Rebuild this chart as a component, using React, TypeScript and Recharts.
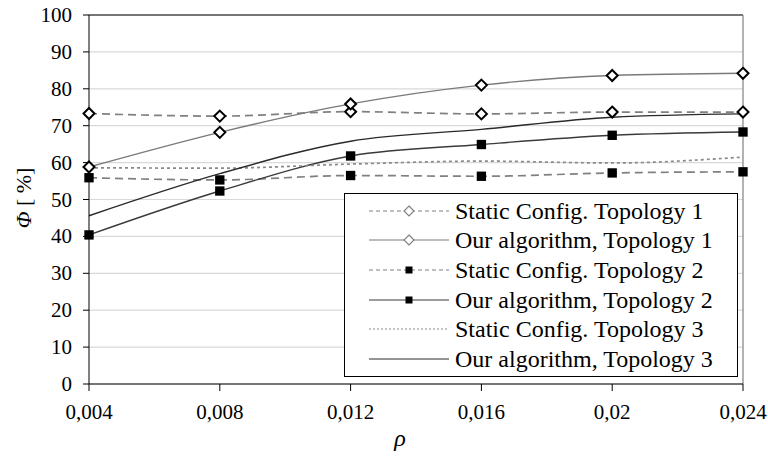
import React from 'react';
import { LineChart, Line, XAxis, YAxis, CartesianGrid, ReferenceLine } from 'recharts';

const rho = [0.004, 0.008, 0.012, 0.016, 0.02, 0.024];
const staticTopo1 = [73.3, 72.6, 73.8, 73.2, 73.7, 73.7];
const algoTopo1 = [58.8, 68.2, 75.9, 81.0, 83.6, 84.2];
const staticTopo2 = [55.9, 55.3, 56.5, 56.3, 57.2, 57.5];
const algoTopo2 = [40.4, 52.3, 61.8, 64.9, 67.4, 68.3];
const staticTopo3 = [58.6, 58.5, 59.6, 60.4, 59.9, 61.5];
const algoTopo3 = [45.6, 57.0, 65.8, 69.0, 72.3, 73.2];

const xTicks = [0.004, 0.008, 0.012, 0.016, 0.02, 0.024];
const yTicks = [0, 10, 20, 30, 40, 50, 60, 70, 80, 90, 100];

const FONT = '"Liberation Serif", "Times New Roman", serif';

type Marker = 'diamond' | 'square' | 'none';

interface SeriesDef {
  key: string;
  name: string;
  values: number[];
  stroke: string;
  width: number;
  dash?: string;
  marker: Marker;
}

const SERIES: SeriesDef[] = [
  { key: 's1', name: 'Static Config. Topology 1', values: staticTopo1, stroke: '#808080', width: 1.7, dash: '8 5', marker: 'diamond' },
  { key: 'a1', name: 'Our algorithm, Topology 1', values: algoTopo1, stroke: '#7a7a7a', width: 1.4, marker: 'diamond' },
  { key: 's2', name: 'Static Config. Topology 2', values: staticTopo2, stroke: '#808080', width: 1.7, dash: '8 5', marker: 'square' },
  { key: 'a2', name: 'Our algorithm, Topology 2', values: algoTopo2, stroke: '#3a3a3a', width: 1.4, marker: 'square' },
  { key: 's3', name: 'Static Config. Topology 3', values: staticTopo3, stroke: '#8a8a8a', width: 1.7, dash: '3 3', marker: 'none' },
  { key: 'a3', name: 'Our algorithm, Topology 3', values: algoTopo3, stroke: '#2a2a2a', width: 1.4, marker: 'none' },
];

const data = rho.map((r, i) => {
  const row: Record<string, number> = { rho: r };
  SERIES.forEach((s) => {
    row[s.key] = s.values[i];
  });
  return row;
});

const markerShape = (kind: Marker, cx: number, cy: number, size: number, key?: string) => {
  if (kind === 'diamond') {
    const r = size;
    return (
      <path
        key={key}
        d={`M${cx},${cy - r}L${cx + r},${cy}L${cx},${cy + r}L${cx - r},${cy}Z`}
        fill="#fff"
        stroke="#000"
        strokeWidth={2}
      />
    );
  }
  if (kind === 'square') {
    const r = size * 0.85;
    return <rect key={key} x={cx - r} y={cy - r} width={r * 2} height={r * 2} fill="#000" />;
  }
  return <g key={key} />;
};

const makeDot = (kind: Marker) => (props: any) =>
  markerShape(kind, props.cx, props.cy, 5.5, `${kind}-${props.index}`);

const XTick = (props: any) => {
  const { x, y, payload } = props;
  return (
    <text x={x} y={y + 20} textAnchor="middle" fontFamily={FONT} fontSize={21} fill="#000">
      {String(payload.value).replace('.', ',')}
    </text>
  );
};

const YTick = (props: any) => {
  const { x, y, payload } = props;
  return (
    <text x={x} y={y + 7} textAnchor="end" fontFamily={FONT} fontSize={21} fill="#000">
      {payload.value}
    </text>
  );
};

// legend sits inside the plot area, bottom-right
const LegendBox = () => (
  <div
    style={{
      position: 'absolute',
      left: 344,
      top: 193,
      width: 394,
      height: 184,
      border: '1px solid #000',
      background: '#fff',
      boxSizing: 'border-box',
      paddingTop: 2,
    }}
  >
    {SERIES.map((s) => (
      <div key={s.key} style={{ display: 'flex', alignItems: 'center', height: 29.6 }}>
        <svg width={110} height={20} style={{ flex: 'none' }}>
          <line x1={24} x2={104} y1={10} y2={10} stroke={s.stroke} strokeWidth={1.2} strokeDasharray={s.dash === '3 3' ? '2 2' : s.dash ? '4 3' : undefined} />
          {s.marker === 'diamond' && (
            <path d="M64,5L69,10L64,15L59,10Z" fill="#fff" stroke="#808080" strokeWidth={1.2} />
          )}
          {s.marker === 'square' && <rect x={60.5} y={6.5} width={7} height={7} fill="#000" />}
        </svg>
        <span style={{ fontFamily: FONT, fontSize: 24, lineHeight: '26px', color: '#000', whiteSpace: 'nowrap' }}>{s.name}</span>
      </div>
    ))}
  </div>
);

export default function App() {
  return (
    <div style={{ position: 'absolute', left: 0, top: 0, width: 768, height: 460, background: '#fff' }}>
      <LineChart width={768} height={460} data={data} margin={{ top: 15, right: 25, bottom: 16, left: 0 }}>
        <CartesianGrid vertical={false} stroke="#d9d9d9" strokeWidth={1.2} />
        <XAxis
          dataKey="rho"
          type="number"
          domain={[0.004, 0.024]}
          ticks={xTicks}
          stroke="#000"
          tickSize={7}
          tickMargin={8}
          height={60}
          tick={<XTick />}
        />
        <YAxis
          type="number"
          domain={[0, 100]}
          ticks={yTicks}
          interval={0}
          stroke="#000"
          tickSize={6}
          tickMargin={11}
          width={89}
          tick={<YTick />}
        />
        <ReferenceLine y={100} stroke="#000" strokeWidth={1.2} />
        <ReferenceLine x={0.024} stroke="#808080" strokeWidth={1.2} />
        {SERIES.map((s) => (
          <Line
            key={s.key}
            dataKey={s.key}
            name={s.name}
            type="monotone"
            stroke={s.stroke}
            strokeWidth={s.width}
            strokeDasharray={s.dash}
            dot={s.marker === 'none' ? false : makeDot(s.marker)}
            activeDot={false}
            isAnimationActive={false}
          />
        ))}
      </LineChart>
      <svg width={768} height={460} style={{ position: 'absolute', left: 0, top: 0, pointerEvents: 'none' }}>
        <text transform="translate(31,198) rotate(-90)" textAnchor="middle" fontFamily={FONT} fontSize={22} fill="#000">
          <tspan fontStyle="italic">Φ</tspan>
          <tspan> [ %]</tspan>
        </text>
        <text x={400} y={446} textAnchor="middle" fontFamily={FONT} fontSize={24} fontStyle="italic" fill="#000">
          ρ
        </text>
      </svg>
      <LegendBox />
    </div>
  );
}
